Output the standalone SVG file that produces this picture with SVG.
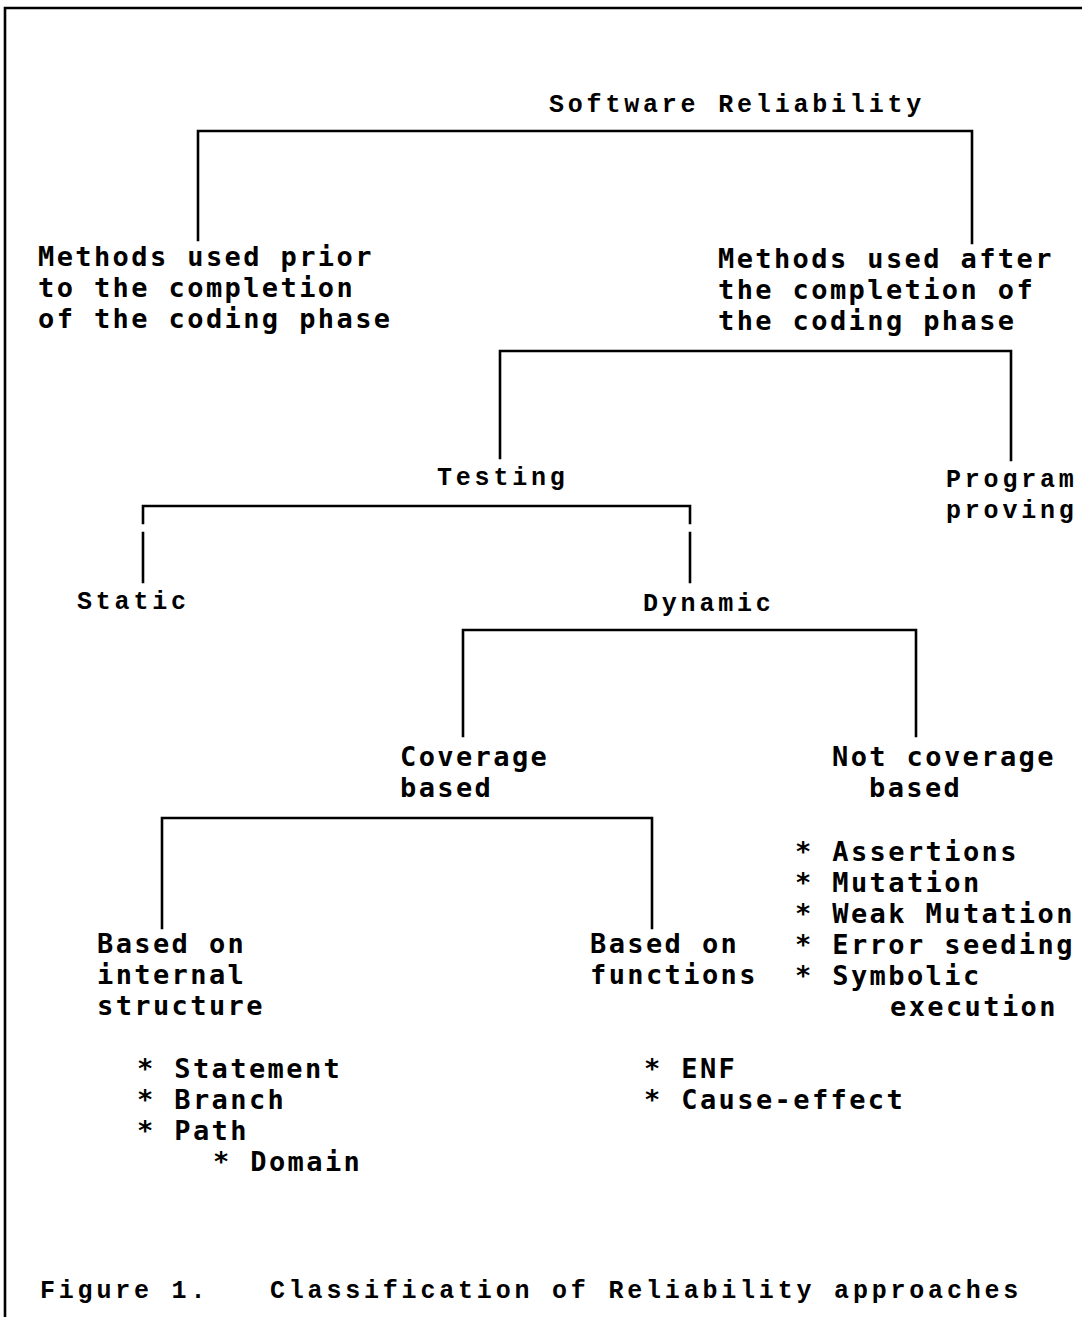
<svg xmlns="http://www.w3.org/2000/svg" width="1082" height="1317" viewBox="0 0 1082 1317">
<style>
.t{font-family:"DejaVu Sans Mono","Liberation Mono",monospace;font-weight:bold;font-size:27px;letter-spacing:2.4px;fill:#000}
.n{font-family:"Liberation Mono","DejaVu Sans Mono",monospace;font-weight:bold;font-size:25px;letter-spacing:3.8px;fill:#000}
.c{fill:none;stroke:#000;stroke-width:2.6;stroke-linecap:square}
</style>
<rect width="1082" height="1317" fill="#fff"/>
<g id="frame">
<path class="c" d="M5 8H1082M5 8V1317" stroke-width="3"/>
</g>
<g id="connectors">
<path class="c" d="M198 240V131H972V243"/>
<path class="c" d="M500 458V351H1011V460"/>
<path class="c" d="M143 523V506H690V523M143 533V582M690 533V582"/>
<path class="c" d="M463 736V630H916V736"/>
<path class="c" d="M162 928V818H652V928"/>
</g>
<g id="root"><text class="n" x="549" y="112">Software Reliability</text></g>
<g id="prior"><text class="t" x="38" y="266">Methods used prior</text><text class="t" x="38" y="297">to the completion</text><text class="t" x="38" y="328">of the coding phase</text></g>
<g id="after"><text class="t" x="718" y="268">Methods used after</text><text class="t" x="718" y="299">the completion of</text><text class="t" x="718" y="330">the coding phase</text></g>
<g id="testing"><text class="n" x="437" y="485">Testing</text></g>
<g id="proving"><text class="n" x="946" y="487">Program</text><text class="n" x="946" y="518">proving</text></g>
<g id="static"><text class="n" x="77" y="609">Static</text></g>
<g id="dynamic"><text class="n" x="643" y="611">Dynamic</text></g>
<g id="coverage"><text class="t" x="400" y="766">Coverage</text><text class="t" x="400" y="797">based</text></g>
<g id="notcoverage"><text class="t" x="832" y="766">Not coverage</text><text class="t" x="869" y="797">based</text>
<text class="t" x="795" y="861">* Assertions</text><text class="t" x="795" y="892">* Mutation</text><text class="t" x="795" y="923">* Weak Mutation</text><text class="t" x="795" y="954">* Error seeding</text><text class="t" x="795" y="985">* Symbolic</text><text class="t" x="890" y="1016">execution</text></g>
<g id="internal"><text class="t" x="97" y="953">Based on</text><text class="t" x="97" y="984">internal</text><text class="t" x="97" y="1015">structure</text>
<text class="t" x="137" y="1078">* Statement</text><text class="t" x="137" y="1109">* Branch</text><text class="t" x="137" y="1140">* Path</text><text class="t" x="213" y="1171">* Domain</text></g>
<g id="functions"><text class="t" x="590" y="953">Based on</text><text class="t" x="590" y="984">functions</text>
<text class="t" x="644" y="1078">* ENF</text><text class="t" x="644" y="1109">* Cause-effect</text></g>
<g id="caption"><text class="n" x="40" y="1298">Figure 1.</text><text class="n" x="270" y="1298">Classification of Reliability approaches</text></g>
</svg>
